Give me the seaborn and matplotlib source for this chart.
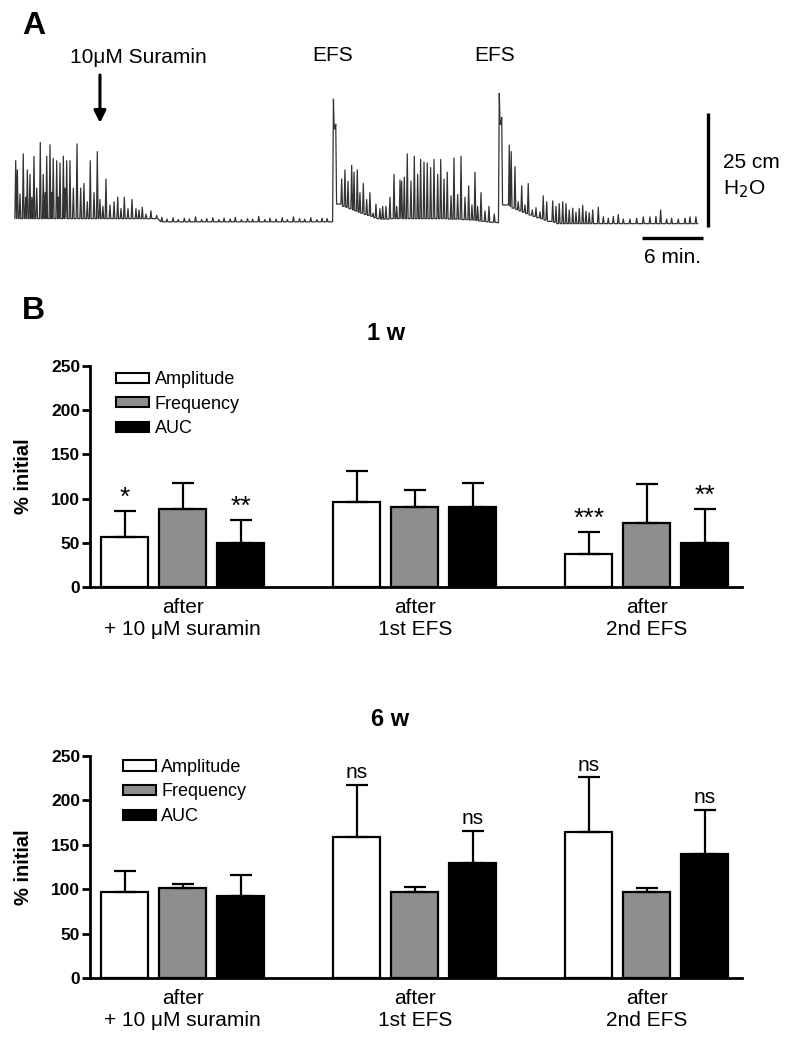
import matplotlib
matplotlib.use("Agg")
import matplotlib.pyplot as plt
import seaborn as sns
import pandas as pd
from matplotlib.patches import Patch

# ---------------- panel A: pressure trace (time in min, pressure in cm H2O) ----------------
# spontaneous activity before / while suramin washes in
pre_t = [0.07, 0.23, 0.49, 0.81, 1.05, 1.21, 1.47, 1.66, 1.86, 2.13, 2.48, 2.77, 2.95, 3.11, 3.43,
         3.6, 3.75, 4.09, 4.25, 4.41, 4.74, 4.9, 5.07, 5.39, 5.72, 6.08, 6.44, 6.76, 7.09, 7.38,
         7.75, 8.07, 8.33, 8.62, 8.92, 9.31, 9.71, 10.07, 10.39, 10.72, 11.08, 11.47, 11.86, 12.16,
         12.48, 12.84, 13.33, 13.89]
pre_peak = [13, 11, 5.7, 14.5, 5, 11, 10, 5, 14, 7, 17, 10, 6, 14, 16.5,
            6, 13.5, 13, 5, 12.5, 14, 7, 13, 13, 7, 16.7, 7, 8, 4, 13,
            6, 15, 4.5, 3, 9, 3.3, 4, 5, 2.5, 5, 2.5, 4.5, 2.5, 2.2,
            2.8, 1.3, 2, 1]
pre_base = 0.3

# suppressed activity under suramin
sur_t = [14.4, 14.9, 15.5, 16.0, 16.6, 17.1, 17.7, 18.3, 18.8, 19.4, 20.0, 20.5, 21.1, 21.6, 22.2,
         22.8, 23.3, 23.9, 24.5, 25.0, 25.6, 26.2, 26.7, 27.3, 27.9, 28.4, 29.0, 29.6, 30.1, 30.6]
sur_peak = [0.6, 0.2, 0.5, 0.1, 0.4, 0.2, 0.7, 0.1, 0.3, 0.5, 0.1, 0.4, 0.2, 0.6, 0.1,
            0.3, 0.2, 0.8, 0.1, 0.4, 0.2, 0.5, 0.1, 0.7, 0.3, 0.2, 0.5, 0.1, 0.4, 0.3]
sur_base = -0.4

# first EFS and the activity after it
efs1_t = [31.22, 31.45, 32.03, 32.35, 32.65, 33.01, 33.24, 33.56, 33.82, 34.15, 34.48, 34.8, 35.1,
          35.39, 35.78, 36.05, 36.37, 36.76, 37.16, 37.42, 37.75, 37.91, 38.17, 38.46, 38.82,
          39.15, 39.48, 39.77, 40.1, 40.42, 40.75, 41.08, 41.44, 41.74, 42.06, 42.38, 42.75,
          43.04, 43.4, 43.73, 44.12, 44.48, 44.8, 45.1, 45.36, 45.69, 46.08, 46.47, 46.99]
efs1_peak = [26.5, 21, 9, 11, 8.5, 12, 10.5, 11, 6, 8, 4.5, 6, 1.5,
             3.5, 2.5, 3, 3, 5, 10, 3, 8.8, 8.5, 9.4, 14.5, 8.5,
             14, 10, 13.3, 12.7, 12.5, 11.5, 13.3, 10, 13.3, 9, 10.5, 5.3,
             13.6, 5.6, 14, 5, 7.5, 3.3, 10.5, 3, 6, 2, 3, 1.3]
efs1_base = [-0.4, 20, 3.5, 3.0, 2.8, 2.5, 2.2, 2.0, 1.7, 1.5, 1.2, 1.0, 0.8,
             0.5, 0.3, 0.2, 0.2, 0.2, 0.3, 0.3, 0.3, 0.3, 0.3, 0.3, 0.3,
             0.3, 0.3, 0.3, 0.3, 0.3, 0.3, 0.3, 0.3, 0.3, 0.3, 0.3, 0.2,
             0.2, 0.2, 0.2, 0.1, 0.1, 0.0, 0.0, -0.1, -0.2, -0.3, -0.4, -0.5]

# second EFS and the activity after it
efs2_t = [47.48, 47.72, 48.46, 48.65, 49.02, 49.34, 49.68, 50.0, 50.32, 50.72, 51.08, 51.47,
          51.79, 52.13, 52.72, 53.04, 53.36, 53.7, 54.02, 54.34, 54.68, 55.0, 55.32, 55.66,
          55.98, 56.3, 56.64, 57.19, 57.68, 58.17, 58.66, 59.15, 59.64, 60.29, 60.95, 61.6,
          62.25, 62.84, 63.3, 63.89, 64.38, 65.03, 65.69, 66.18, 66.76]
efs2_peak = [27.8, 22.5, 16.4, 15, 11.7, 4, 7.5, 3.3, 8, 2.2, 2.7, 1.8,
             5.3, 4, 4.2, 3.0, 3.6, 4.0, 3.6, 2.2, 2.6, 1.7, 2.5, 3.2,
             1.9, 1.6, 2.2, 2.8, 0.7, 0.4, 0.8, 1.2, 0.2, 0.2, 0.4, 0.7,
             0.7, 0.8, 2.2, 0.2, 0.4, 0.2, 0.4, 0.7, 0.7]
efs2_base = [-0.6, 21, 3.3, 3.0, 2.6, 2.3, 2.0, 1.7, 1.4, 1.1, 0.8, 0.5,
             0.3, 0.0, -0.3, -0.5, -0.8, -0.8, -0.8, -0.8, -0.8, -0.8, -0.8, -0.8,
             -0.8, -0.8, -0.8, -0.8, -0.8, -0.8, -0.8, -0.8, -0.8, -0.8, -0.8, -0.8,
             -0.8, -0.8, -0.8, -0.8, -0.8, -0.8, -0.8, -0.8, -0.8]

# ---------------- panel B: bar data (% initial, mean and SD) ----------------
conditions = ["after\n+ 10 \u03bcM suramin", "after\n1st EFS", "after\n2nd EFS"]
measures = ["Amplitude", "Frequency", "AUC"]
bar_colors = ["#ffffff", "#8e8e8e", "#000000"]

w1_amp = [57, 96, 37]
w1_amp_sd = [29, 35, 25]
w1_freq = [88, 90, 72]
w1_freq_sd = [29.5, 20, 45]
w1_auc = [50, 90, 50]
w1_auc_sd = [26, 28, 38]
w1_marks = [["*", "", "***"], ["", "", ""], ["**", "", "**"]]

w6_amp = [97.5, 159, 165]
w6_amp_sd = [23, 58.5, 61]
w6_freq = [101.5, 96.5, 96.5]
w6_freq_sd = [4, 6.5, 5.5]
w6_auc = [92.5, 130, 139.5]
w6_auc_sd = [23.5, 35.5, 49.5]
w6_marks = [["", "ns", "ns"], ["", "", ""], ["", "ns", "ns"]]

sns.set_theme(style="ticks")
plt.rcParams["font.family"] = ["Liberation Sans", "DejaVu Sans"]
plt.rcParams.update({"text.color": "black", "axes.labelcolor": "black",
                     "xtick.color": "black", "ytick.color": "black",
                     "axes.edgecolor": "black"})

fig = plt.figure(figsize=(7.97, 10.5), dpi=100)

# ---- panel A ----
axA = fig.add_axes([0, 1 - 280 / 1050, 1, 280 / 1050])
axA.axis("off")
axA.set_xlim(-1.47, 76.67)
axA.set_ylim(-13.16, 48.25)

trace_x, trace_y = [], []
segments = [
    (pre_t, pre_peak, [pre_base] * len(pre_t)),
    (sur_t, sur_peak, [sur_base] * len(sur_t)),
    (efs1_t, efs1_peak, efs1_base),
    (efs2_t, efs2_peak, efs2_base),
]
d = 0.08
for ts, peaks, bases in segments:
    for i in range(len(ts)):
        nxt = bases[i + 1] if i + 1 < len(ts) else bases[i]
        trace_x += [ts[i] - d, ts[i], ts[i] + d]
        trace_y += [bases[i], peaks[i], nxt]
trace_x.append(66.95)
trace_y.append(-0.8)
sns.lineplot(x=trace_x, y=trace_y, sort=False, estimator=None, color="#333333",
             linewidth=0.9, ax=axA)

axA.text(12.06, 35.7, "10\u03bcM Suramin", ha="center", va="center", fontsize=15)
axA.annotate("", xy=(8.33, 21.3), xytext=(8.33, 31.8),
             arrowprops=dict(arrowstyle="-|>", color="black", lw=2.2, mutation_scale=18,
                             shrinkA=0, shrinkB=0))
axA.text(31.1, 36.0, "EFS", ha="center", va="center", fontsize=15)
axA.text(47.06, 36.0, "EFS", ha="center", va="center", fontsize=15)

# scale bars
axA.plot([67.97, 67.97], [-1.5, 23.5], color="black", linewidth=2.4, solid_capstyle="butt")
axA.plot([61.44, 67.48], [-3.95, -3.95], color="black", linewidth=2.4, solid_capstyle="butt")
axA.text(69.4, 12.6, "25 cm", ha="left", va="center", fontsize=15)
axA.text(69.4, 6.7, "H$_2$O", ha="left", va="center", fontsize=15)
axA.text(64.5, -8.2, "6 min.", ha="center", va="center", fontsize=15)

fig.text(22 / 797, 1 - 26 / 1050, "A", ha="left", va="center", fontsize=23, fontweight="bold")
fig.text(22 / 797, 1 - 311 / 1050, "B", ha="left", va="center", fontsize=23, fontweight="bold")


def bar_panel(rect, means, sds, marks, legend_xy):
    ax = fig.add_axes(rect)
    df = pd.DataFrame({
        "condition": conditions * 3,
        "measure": [m for m in measures for _ in conditions],
        "value": means[0] + means[1] + means[2],
    })
    sns.barplot(data=df, x="condition", y="value", hue="measure", order=conditions,
                hue_order=measures, palette=bar_colors, saturation=1, width=0.75, gap=0.19,
                edgecolor="black", linewidth=1.6, errorbar=None, legend=False, ax=ax)

    for cont, vals, errs, labs in zip(ax.containers, means, sds, marks):
        xs = [p.get_x() + p.get_width() / 2 for p in cont]
        ax.errorbar(xs, vals, yerr=[[0] * len(vals), errs], fmt="none", ecolor="black",
                    elinewidth=1.6, capsize=8, capthick=1.6)
        for x, v, e, lab in zip(xs, vals, errs, labs):
            if lab.startswith("*"):
                ax.annotate(lab, (x, v + e), xytext=(0, 1), textcoords="offset points",
                            ha="center", va="bottom", fontsize=19)
            elif lab:
                ax.annotate(lab, (x, v + e), xytext=(0, 2), textcoords="offset points",
                            ha="center", va="bottom", fontsize=15)

    sns.despine(ax=ax)
    ax.spines["left"].set_linewidth(2)
    ax.spines["bottom"].set_linewidth(2)
    ax.set_ylim(0, 250)
    ax.set_xlim(-0.4, 2.41)
    ax.set_yticks(range(0, 251, 50))
    ax.tick_params(axis="y", length=6, width=2, pad=1, labelsize=12.5)
    for t in ax.get_yticklabels():
        t.set_fontweight("bold")
    ax.tick_params(axis="x", length=0, pad=8, labelsize=15)
    ax.set_xlabel("")
    ax.set_ylabel("% initial", fontsize=14.5, fontweight="bold")
    ax.yaxis.set_label_coords(-0.088, 0.5)

    handles = [Patch(facecolor=c, edgecolor="black", linewidth=1.5, label=m)
               for c, m in zip(bar_colors, measures)]
    ax.legend(handles=handles, loc="upper left", bbox_to_anchor=legend_xy, frameon=False,
              fontsize=13, handlelength=1.85, handleheight=0.5, handletextpad=0.3,
              labelspacing=0.42, borderpad=0, borderaxespad=0)
    return ax


bar_panel([90 / 797, 1 - 587 / 1050, 652 / 797, 221 / 1050],
          [w1_amp, w1_freq, w1_auc], [w1_amp_sd, w1_freq_sd, w1_auc_sd], w1_marks, (0.04, 0.977))
bar_panel([90 / 797, 1 - 978.3 / 1050, 652 / 797, 222.3 / 1050],
          [w6_amp, w6_freq, w6_auc], [w6_amp_sd, w6_freq_sd, w6_auc_sd], w6_marks, (0.05, 0.987))

fig.text(386 / 797, 1 - 333 / 1050, "1 w", ha="center", va="center", fontsize=17,
         fontweight="bold")
fig.text(390 / 797, 1 - 720 / 1050, "6 w", ha="center", va="center", fontsize=17,
         fontweight="bold")

fig.savefig("out.png", dpi=100)
